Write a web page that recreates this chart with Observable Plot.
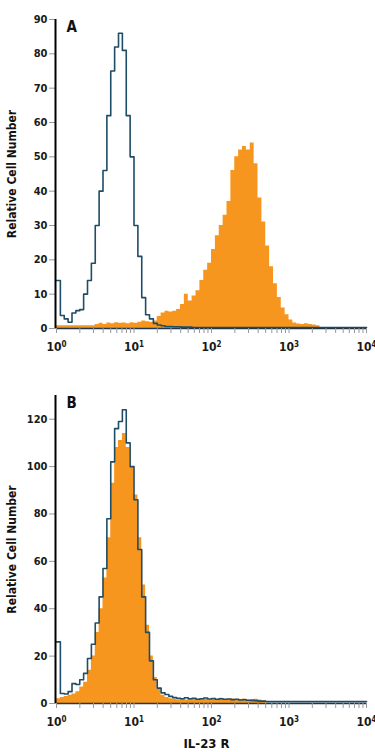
<!DOCTYPE html>
<html>
<head>
<meta charset="utf-8">
<script src="https://cdn.jsdelivr.net/npm/d3@7"></script>
<script src="https://cdn.jsdelivr.net/npm/@observablehq/plot@0.6"></script>
<style>
  body { margin: 0; background: #fff; }
  #chart { width: 375px; }
  #chart svg { display: block; }
</style>
</head>
<body>
<div id="chart"></div>
<script>
// ---- data: 80 histogram bins, each 0.05 decade wide, from 10^0 to 10^4 ----
const binWidthLog = 0.05;

// Panel A: isotype control (outline) and IL-23 R stained (filled)
const controlA = [14, 3.8, 2.8, 1.8, 4.5, 5.2, 5.5, 10, 14, 19,
  30, 40, 46, 62, 75, 82, 86, 81, 62, 50,
  30, 21, 9, 4, 2.8, 1.5, 1, 0.8, 0.6, 0.6,
  0.5, 0.5, 0.4, 0.4, 0.4, 0.3, 0.3, 0.3, 0.3, 0.3,
  0.3, 0.3, 0.3, 0.3, 0.3, 0.3, 0.3, 0.3, 0.3, 0.3,
  0.3, 0.3, 0.3, 0.3, 0.3, 0.3, 0.3, 0.3, 0.3, 0.3,
  0.3, 0.3, 0.3, 0.3, 0.3, 0.3, 0.3, 0.3, 0.3, 0.3,
  0.3, 0.3, 0.3, 0.3, 0.3, 0.3, 0.3, 0.3, 0.3, 0.3];
const stainedA = [0.8, 0.8, 0.8, 0.8, 0.8, 0.8, 0.8, 0.8, 0.8, 0.8,
  1.2, 1.5, 1.2, 1.6, 1.4, 1.7, 1.5, 1.6, 1.4, 1.7,
  1.5, 1.8, 2.2, 2.0, 1.8, 2.2, 3.5, 4.5, 5, 4.8,
  5, 5.5, 7, 10, 8, 9.5, 11, 14, 17, 19,
  23, 27, 30, 33, 37, 46, 50, 52, 53, 52,
  54, 48, 38, 31, 24, 18, 13, 9, 6, 4,
  2.5, 1.6, 1.3, 1.2, 1.4, 1.2, 1.0, 0.8, 0, 0,
  0, 0, 0, 0, 0, 0, 0, 0, 0, 0];

// Panel B: isotype control (outline) and stained (filled)
const controlB = [26, 4.2, 4, 5, 8.4, 8, 10, 12.7, 19, 25,
  34, 45, 57, 78, 102, 116, 119, 124, 110, 100,
  86, 65, 45, 30, 18, 10, 6.5, 4.5, 3.8, 3,
  2.5, 2.2, 2.0, 2.4, 2.0, 2.2, 1.8, 2.0, 2.3, 1.9,
  2.1, 1.8, 2.0, 1.8, 1.9, 1.6, 1.8, 1.5, 1.6, 1.4,
  1.3, 1.2, 1.0, 1.0, 0.8, 0.8, 0.8, 0.8, 0.8, 0.8,
  0.8, 0.8, 0.8, 0.8, 0.8, 0.8, 0.8, 0.8, 0.8, 0.8,
  0.8, 0.8, 0.8, 0.8, 0.8, 0.8, 0.8, 0.8, 0.8, 0.8];
const stainedB = [2, 2.5, 3, 3.5, 4, 5, 7, 9, 14, 20,
  30, 40, 53, 70, 93, 108, 111, 114, 108, 100,
  88, 70, 50, 33, 20, 11, 6, 3.5, 2.5, 2,
  1.8, 1.6, 1.8, 1.5, 2.0, 1.7, 1.6, 2.1, 1.8, 1.5,
  1.9, 1.7, 2.2, 1.6, 1.8, 2.0, 1.5, 1.7, 1.9, 1.4,
  1.6, 1.8, 1.5, 1.2, 0, 0, 0, 0, 0, 0,
  0, 0, 0, 0, 0, 0, 0, 0, 0, 0,
  0, 0, 0, 0, 0, 0, 0, 0, 0, 0];

const yTicksA = [0, 10, 20, 30, 40, 50, 60, 70, 80, 90];
const yTicksB = [0, 20, 40, 60, 80, 100, 120];
const xDecades = [1, 10, 100, 1000, 10000];
const xExponents = ["0", "1", "2", "3", "4"];
const yLabel = "Relative Cell Number";
const xLabel = "IL-23 R";

// ---- styling ----
const ORANGE = "#f7961e";
const BLUE = "#1f4c66";
const FONT = '"Liberation Sans Narrow","DejaVu Sans Condensed","Roboto",sans-serif';

const minorTicks = xDecades.slice(0, -1).flatMap(d => [1,2,3,4,5,6,7,8,9].map(k => k * d)).concat([10000]);

function steps(vals) {
  const pts = vals.map((v, i) => ({x: Math.pow(10, i * binWidthLog), y: v}));
  pts.push({x: 10000, y: vals[vals.length - 1]});
  return pts;
}

function panel({control, stained, yMax, yTicks, letter, height, marginTop, marginBottom, letterDy, withXLabel}) {
  const marks = [
    Plot.areaY(steps(stained), {x: "x", y: "y", curve: "step-after", fill: ORANGE}),
    Plot.lineY(steps(control), {x: "x", y: "y", curve: "step-after", stroke: BLUE, strokeWidth: 1.6}),
    Plot.ruleY([0], {stroke: "#22384a", strokeWidth: 1.6}),
    Plot.axisY(yTicks, {tickSize: 7, tickPadding: 2, label: null, stroke: "#999", fill: "#1a1a1a", fontWeight: "bold", fontSize: 11}),
    Plot.ruleX([1], {stroke: "#000", strokeWidth: 2, dx: -1}),
    Plot.axisX(minorTicks, {tickSize: 5, tickFormat: () => "", label: null, stroke: "#999"}),
    Plot.axisX(xDecades, {tickSize: 0, tickPadding: 14, label: null, tickFormat: d => "10", fill: "#1a1a1a", fontWeight: "bold", fontSize: 12}),
    Plot.text([yLabel], {frameAnchor: "left", rotate: -90, dx: -44, textAnchor: "middle", fontWeight: "bold", fontSize: 12, fill: "#111"}),
    Plot.text([letter], {frameAnchor: "top-left", dx: 10, dy: letterDy, textAnchor: "start", lineAnchor: "middle", fontWeight: "bold", fontSize: 15, fill: "#111"})
  ];
  if (withXLabel) {
    marks.push(Plot.text([xLabel], {frameAnchor: "bottom", dy: 40, dx: -5, lineAnchor: "middle", fontWeight: "bold", fontSize: 13, fill: "#111"}));
  }
  const svg = Plot.plot({
    width: 375, height, marginLeft: 56, marginRight: 9, marginTop, marginBottom,
    style: {fontFamily: FONT, fontWeight: "bold", background: "#fff", overflow: "visible"},
    x: {type: "log", domain: [1, 10000]},
    y: {domain: [0, yMax]},
    marks
  });
  // drop the empty labels of the minor-tick axis, then superscript the decade exponents
  const all = d3.select(svg).selectAll('g[aria-label="x-axis tick label"] text');
  all.filter(function() { return this.textContent === ""; }).remove();
  const labels = d3.select(svg).selectAll('g[aria-label="x-axis tick label"] text');
  labels.each(function(d, i) {
    const t = d3.select(this);
    t.text("10");
    t.append("tspan").attr("dy", "-0.45em").attr("font-size", "8").text(xExponents[i]);
  });
  return svg;
}

const chart = document.getElementById("chart");
chart.append(panel({control: controlA, stained: stainedA, yMax: 90, yTicks: yTicksA, letter: "A",
  height: 370, marginTop: 19, marginBottom: 42, letterDy: 8, withXLabel: false}));
chart.append(panel({control: controlB, stained: stainedB, yMax: 130, yTicks: yTicksB, letter: "B",
  height: 382, marginTop: 25, marginBottom: 49, letterDy: 8, withXLabel: true}));
</script>
</body>
</html>
